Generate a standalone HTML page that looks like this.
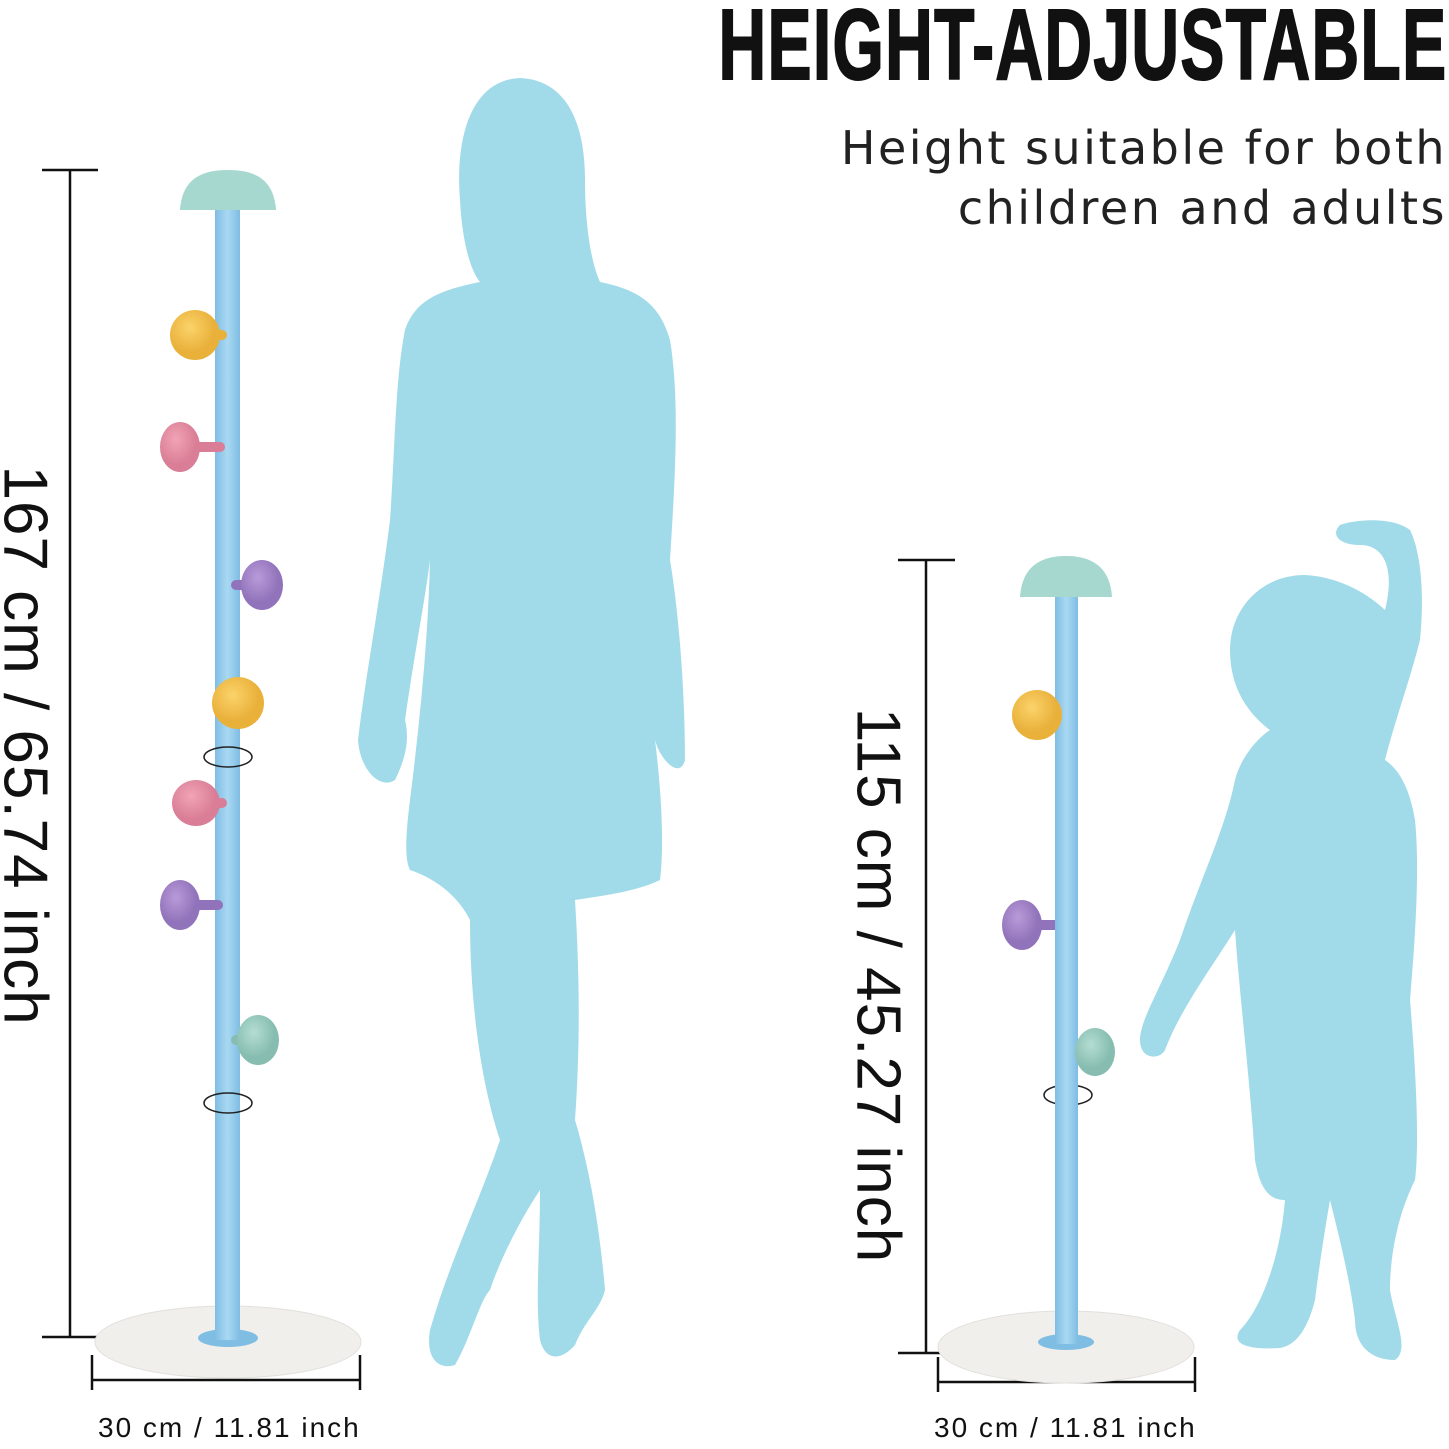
<!DOCTYPE html>
<html><head><meta charset="utf-8"><style>
html,body{margin:0;padding:0;background:#fff;}
body{width:1449px;height:1449px;position:relative;overflow:hidden;font-family:"Liberation Sans",sans-serif;}
.t{position:absolute;white-space:nowrap;color:#111;}
</style></head><body>
<svg width="1449" height="1449" style="position:absolute;left:0;top:0">
<defs>
<linearGradient id="pole" x1="0" x2="1"><stop offset="0" stop-color="#7fbde3"/><stop offset="0.5" stop-color="#a9d8f2"/><stop offset="1" stop-color="#7fbde3"/></linearGradient>
<radialGradient id="y" cx="0.4" cy="0.35"><stop offset="0" stop-color="#fbd36a"/><stop offset="1" stop-color="#e9b03a"/></radialGradient>
<radialGradient id="p" cx="0.4" cy="0.35"><stop offset="0" stop-color="#f2a3b6"/><stop offset="1" stop-color="#d97e96"/></radialGradient>
<radialGradient id="v" cx="0.4" cy="0.35"><stop offset="0" stop-color="#b99ad8"/><stop offset="1" stop-color="#9173bb"/></radialGradient>
<radialGradient id="g" cx="0.4" cy="0.35"><stop offset="0" stop-color="#b5ddd2"/><stop offset="1" stop-color="#86bdb0"/></radialGradient>
</defs>
<path fill="#a1dbea" d="M520 78 C470 80 455 140 460 200 C462 240 470 270 480 282 C440 290 415 300 405 330 C395 380 395 450 390 520 C380 600 365 680 358 740 C360 770 380 790 395 780 C405 760 410 740 405 720 C415 650 425 600 430 560 C428 640 420 720 410 800 C405 840 405 860 410 870 C440 880 460 900 470 920 C470 1000 480 1080 500 1140 C480 1200 450 1260 430 1330 C425 1360 440 1370 455 1365 C470 1340 480 1300 490 1290 C500 1260 520 1220 540 1190 C540 1250 535 1300 540 1340 C545 1360 560 1362 575 1345 C585 1320 600 1310 605 1290 C600 1230 590 1170 575 1120 C580 1050 580 980 575 900 C610 895 640 890 660 880 C665 840 660 780 655 740 C660 760 680 780 685 760 C685 700 680 620 670 560 C675 480 680 400 670 340 C660 305 640 290 600 282 C590 260 585 220 585 180 C585 120 565 80 520 78 Z"/>
<path fill="#a1dbea" d="M1305 575 C1260 575 1230 610 1230 650 C1230 690 1250 715 1270 730 C1255 740 1240 760 1235 780 C1225 830 1200 880 1180 940 C1160 990 1140 1020 1140 1040 C1140 1060 1160 1060 1165 1050 C1180 1010 1210 970 1235 930 C1240 1000 1250 1080 1255 1160 C1260 1190 1270 1200 1285 1200 C1280 1260 1260 1310 1240 1330 C1230 1345 1250 1350 1280 1348 C1300 1345 1310 1320 1315 1300 C1320 1260 1325 1230 1330 1200 C1340 1240 1350 1280 1355 1320 C1355 1345 1370 1360 1395 1360 C1410 1350 1395 1320 1390 1290 C1390 1250 1400 1210 1415 1180 C1420 1140 1415 1060 1410 1000 C1415 940 1420 870 1415 820 C1410 790 1400 770 1385 760 C1395 720 1410 680 1420 640 C1425 590 1420 550 1410 530 C1395 518 1360 518 1340 525 C1330 535 1340 545 1360 545 C1385 545 1395 570 1385 610 C1375 600 1345 577 1305 575 Z"/>
<g stroke="#111" stroke-width="2.5" fill="none">
<line x1="70" y1="170" x2="70" y2="1337"/><line x1="42" y1="170" x2="98" y2="170"/><line x1="42" y1="1337" x2="98" y2="1337"/>
<line x1="92" y1="1380" x2="360" y2="1380"/><line x1="92" y1="1355" x2="92" y2="1390"/><line x1="360" y1="1355" x2="360" y2="1390"/>
<line x1="926" y1="560" x2="926" y2="1353"/><line x1="898" y1="560" x2="955" y2="560"/><line x1="898" y1="1353" x2="955" y2="1353"/>
<line x1="938" y1="1382" x2="1195" y2="1382"/><line x1="938" y1="1357" x2="938" y2="1392"/><line x1="1195" y1="1357" x2="1195" y2="1392"/>
</g>
<ellipse cx="228" cy="1342" rx="133" ry="36" fill="#f0efec" stroke="#e2e0dc"/>
<ellipse cx="228" cy="1338" rx="30" ry="9" fill="#7fbde3"/>
<rect x="215" y="205" width="25" height="1135" fill="url(#pole)"/>
<path d="M180 210 C182 180 200 170 228 170 C256 170 274 180 276 210 Z" fill="#a6d8cf"/>
<g stroke-width="10" stroke-linecap="round">
<line x1="200" y1="335" x2="222" y2="335" stroke="#e9b03a"/><line x1="190" y1="447" x2="220" y2="447" stroke="#d97e96"/>
<line x1="236" y1="585" x2="255" y2="585" stroke="#9173bb"/><line x1="190" y1="803" x2="222" y2="803" stroke="#d97e96"/>
<line x1="185" y1="905" x2="218" y2="905" stroke="#9173bb"/><line x1="236" y1="1040" x2="255" y2="1040" stroke="#86bdb0"/>
<line x1="1040" y1="715" x2="1062" y2="715" stroke="#e9b03a"/><line x1="1025" y1="925" x2="1058" y2="925" stroke="#9173bb"/><line x1="1075" y1="1052" x2="1095" y2="1052" stroke="#86bdb0"/>
</g>
<circle cx="195" cy="335" r="25" fill="url(#y)"/><ellipse cx="180" cy="447" rx="20" ry="25" fill="url(#p)"/>
<ellipse cx="262" cy="585" rx="21" ry="25" fill="url(#v)"/><circle cx="238" cy="703" r="26" fill="url(#y)"/>
<ellipse cx="196" cy="803" rx="24" ry="23" fill="url(#p)"/><ellipse cx="180" cy="905" rx="20" ry="25" fill="url(#v)"/>
<ellipse cx="258" cy="1040" rx="21" ry="25" fill="url(#g)"/>
<g stroke="#222" stroke-width="1.5" fill="none"><ellipse cx="228" cy="757" rx="24" ry="10"/><ellipse cx="228" cy="1103" rx="24" ry="10"/><ellipse cx="1068" cy="1095" rx="24" ry="10"/></g>
<ellipse cx="1066" cy="1347" rx="128" ry="36" fill="#f0efec" stroke="#e2e0dc"/>
<ellipse cx="1066" cy="1342" rx="28" ry="8" fill="#7fbde3"/>
<rect x="1055" y="592" width="23" height="752" fill="url(#pole)"/>
<path d="M1020 597 C1022 567 1040 556 1066 556 C1092 556 1110 567 1112 597 Z" fill="#a6d8cf"/>
<circle cx="1037" cy="715" r="25" fill="url(#y)"/><ellipse cx="1022" cy="925" rx="20" ry="25" fill="url(#v)"/>
<ellipse cx="1095" cy="1052" rx="20" ry="24" fill="url(#g)"/>
</svg>
<div class="t" style="right:2px;top:-12px;font-size:100px;font-weight:bold;transform:scaleX(0.66);transform-origin:right top;letter-spacing:2px;-webkit-text-stroke:2px #111;">HEIGHT-ADJUSTABLE</div>
<div class="t" style="right:2px;top:118px;font-family:'DejaVu Sans',sans-serif;font-size:46px;text-align:right;line-height:60px;color:#222;letter-spacing:2.5px;">Height suitable for both<br>children and adults</div>
<div class="t" style="left:-255px;top:710px;width:560px;text-align:center;font-size:62px;transform:rotate(90deg);letter-spacing:1px;">167 cm / 65.74 inch</div>
<div class="t" style="left:598px;top:950px;width:560px;text-align:center;font-size:62px;transform:rotate(90deg);letter-spacing:1px;">115 cm / 45.27 inch</div>
<div class="t" style="left:98px;top:1412px;font-size:28px;letter-spacing:2px;">30 cm / 11.81 inch</div>
<div class="t" style="left:934px;top:1412px;font-size:28px;letter-spacing:2px;">30 cm / 11.81 inch</div>
</body></html>
